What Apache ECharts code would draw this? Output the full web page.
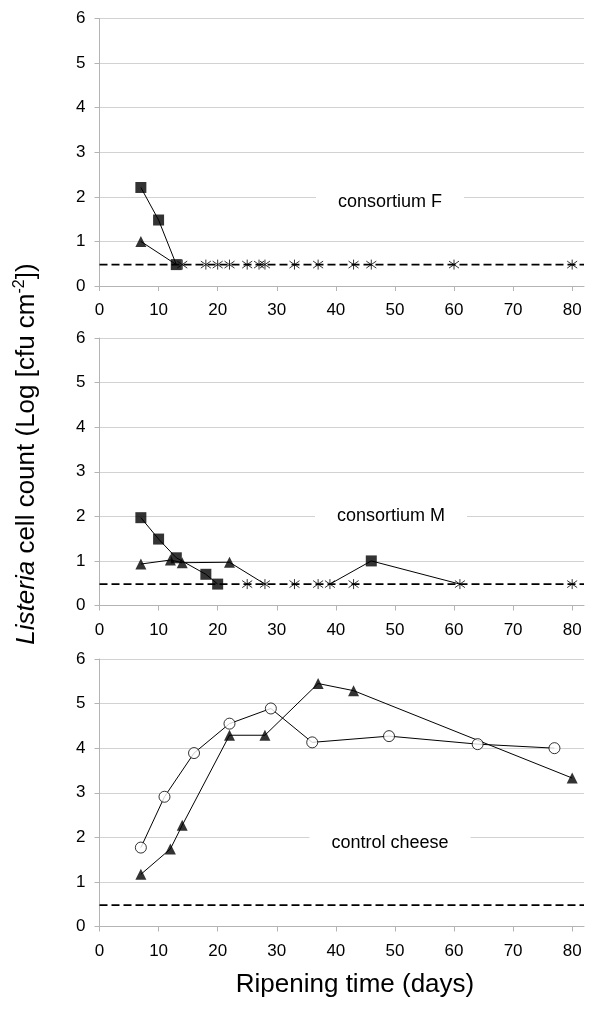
<!DOCTYPE html>
<html>
<head>
<meta charset="utf-8">
<script src="https://cdn.jsdelivr.net/npm/echarts@6/dist/echarts.min.js"></script>
<style>
  html, body { margin: 0; padding: 0; background: #fff; }
  #chart { width: 600px; height: 1014px; }
</style>
</head>
<body>
<div id="chart"></div>
<script>
// x axis ticks and detection limit
var dayTicks = [0, 10, 20, 30, 40, 50, 60, 70, 80];
var detectionLimit = 0.48;

// consortium F
var fSquareDays = [7, 10, 13];
var fSquareLog = [2.21, 1.48, 0.48];
var fTriangleDays = [7, 13];
var fTriangleLog = [1.0, 0.48];
var fStarDays = [14, 18, 20, 22, 25, 27, 28, 33, 37, 43, 46, 60, 80];

// consortium M
var mSquareDays = [7, 10, 13, 18, 20];
var mSquareLog = [1.97, 1.49, 1.07, 0.70, 0.48];
var mLateDays = [39, 46, 61];
var mLateLog = [0.48, 1.0, 0.48];
var mTriangleDays = [7, 12, 14, 22, 28];
var mTriangleLog = [0.93, 1.02, 0.96, 0.97, 0.48];
var mStarDays = [25, 28, 33, 37, 39, 43, 61, 80];

// control cheese
var cCircleDays = [7, 11, 16, 22, 29, 36, 49, 64, 77];
var cCircleLog = [1.77, 2.91, 3.89, 4.55, 4.89, 4.13, 4.27, 4.09, 4.0];
var cTriangleDays = [7, 12, 14, 22, 28, 37, 43, 80];
var cTriangleLog = [1.17, 1.74, 2.27, 4.29, 4.29, 5.45, 5.29, 3.33];

var panelLabels = ['consortium F', 'consortium M', 'control cheese'];

var FONT = '"Liberation Sans", Arial, sans-serif';
var STAR = 'path://M5 0L5 10M0.7 1.5L9.3 8.5M9.3 1.5L0.7 8.5';

function pairs(days, logs) {
    return days.map(function (d, i) { return [d, logs[i]]; });
}
function flat(days) {
    return days.map(function (d) { return [d, detectionLimit]; });
}

// line without markers
function path(g, data) {
    return {
        type: 'line', xAxisIndex: g, yAxisIndex: g, data: data,
        symbol: 'none', silent: true, z: 3,
        lineStyle: { color: '#000', width: 1 }
    };
}
// markers only
function marks(g, data, symbol, opts) {
    opts = opts || {};
    return {
        type: 'scatter', xAxisIndex: g, yAxisIndex: g, data: data,
        symbol: symbol, symbolSize: opts.size || 11, silent: true, z: opts.z || 5,
        itemStyle: {
            color: opts.fill || '#000',
            borderColor: '#000',
            borderWidth: opts.border || 0
        }
    };
}
function limitLine(g) {
    return {
        type: 'line', xAxisIndex: g, yAxisIndex: g,
        data: [[0, detectionLimit], [82, detectionLimit]],
        symbol: 'none', silent: true, z: 2,
        lineStyle: { color: '#000', width: 1.6, type: [8, 4] }
    };
}

var tops = [18.5, 338, 659];
var grids = [], xAxes = [], yAxes = [];
tops.forEach(function (t, i) {
    grids.push({ left: 99.5, right: 16, top: t, height: 267.5 });
    xAxes.push({
        type: 'value', gridIndex: i, min: 0, max: 82,
        axisLine: { lineStyle: { color: '#b4b4b4', width: 1 } },
        axisTick: { customValues: dayTicks, length: 5, lineStyle: { color: '#b4b4b4' } },
        axisLabel: { customValues: dayTicks, color: '#000', fontSize: 17, fontFamily: FONT, margin: 16 },
        splitLine: { show: false }
    });
    yAxes.push({
        type: 'value', gridIndex: i, min: 0, max: 6, interval: 1,
        axisLine: { show: true, lineStyle: { color: '#b4b4b4', width: 1 } },
        axisTick: { show: true, length: 5, lineStyle: { color: '#b4b4b4' } },
        axisLabel: { color: '#000', fontSize: 17, fontFamily: FONT, margin: 14 },
        splitLine: { lineStyle: { color: '#d2d2d2', width: 1 } }
    });
});

var series = [
    // F
    limitLine(0),
    marks(0, flat(fStarDays), STAR, { fill: 'none', border: 1, z: 4, size: 10 }),
    path(0, pairs(fTriangleDays, fTriangleLog)),
    marks(0, pairs(fTriangleDays.slice(0, 1), fTriangleLog.slice(0, 1)), 'triangle'),
    path(0, pairs(fSquareDays, fSquareLog)),
    marks(0, pairs(fSquareDays, fSquareLog), 'rect', { z: 6 }),
    // M
    limitLine(1),
    marks(1, flat(mStarDays), STAR, { fill: 'none', border: 1, z: 4, size: 10 }),
    path(1, pairs(mTriangleDays, mTriangleLog)),
    marks(1, pairs(mTriangleDays.slice(0, 4), mTriangleLog.slice(0, 4)), 'triangle'),
    path(1, pairs(mSquareDays, mSquareLog)),
    path(1, pairs(mLateDays, mLateLog)),
    marks(1, pairs(mSquareDays, mSquareLog), 'rect', { z: 6 }),
    marks(1, pairs(mLateDays.slice(1, 2), mLateLog.slice(1, 2)), 'rect', { z: 6 }),
    // control
    limitLine(2),
    path(2, pairs(cCircleDays, cCircleLog)),
    marks(2, pairs(cCircleDays, cCircleLog), 'circle', { fill: '#fff', border: 1 }),
    path(2, pairs(cTriangleDays, cTriangleLog)),
    marks(2, pairs(cTriangleDays, cTriangleLog), 'triangle')
];

var labelPos = [[390, 202], [391, 516], [390, 843]];
var graphics = panelLabels.map(function (txt, i) {
    return {
        type: 'text', x: labelPos[i][0], y: labelPos[i][1], z: 10,
        style: {
            text: txt, fill: '#000', font: '18px ' + FONT,
            align: 'center', verticalAlign: 'middle',
            backgroundColor: '#fff', padding: [3, 22]
        }
    };
});
graphics.push({
    type: 'text', x: 355, y: 985, z: 10,
    style: {
        text: 'Ripening time (days)', fill: '#000', font: '26px ' + FONT,
        align: 'center', verticalAlign: 'middle'
    }
});
graphics.push({
    type: 'text', x: 27, y: 454, rotation: Math.PI / 2, z: 10,
    style: {
        text: '{it|Listeria} cell count (Log [cfu cm{sup|-2}])',
        fill: '#000', font: '26px ' + FONT,
        align: 'center', verticalAlign: 'middle',
        rich: {
            it: { fontStyle: 'italic', fontSize: 26, fontFamily: FONT, fill: '#000' },
            sup: { fontSize: 16, fontFamily: FONT, verticalAlign: 'top', lineHeight: 30, fill: '#000' }
        }
    }
});

var chart = echarts.init(document.getElementById('chart'), null, { renderer: 'canvas' });
chart.setOption({
    backgroundColor: '#fff',
    animation: false,
    grid: grids,
    xAxis: xAxes,
    yAxis: yAxes,
    series: series,
    graphic: graphics
});
</script>
</body>
</html>
